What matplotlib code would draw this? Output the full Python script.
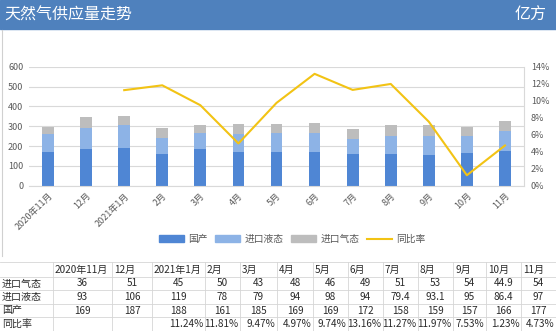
import numpy as np
import matplotlib
matplotlib.use('Agg')
import matplotlib.pyplot as plt
from matplotlib.patches import Rectangle, Patch
from matplotlib.lines import Line2D

plt.rcParams['font.family'] = ['Noto Sans CJK SC', 'DejaVu Sans']

months = ['2020年11月', '12月', '2021年1月', '2月', '3月', '4月', '5月',
          '6月', '7月', '8月', '9月', '10月', '11月']
gas_import = [36, 51, 45, 50, 43, 48, 46, 49, 51, 53, 54, 44.9, 54]
lng_import = [93, 106, 119, 78, 79, 94, 98, 94, 79.4, 93.1, 95, 86.4, 97]
domestic = [169, 187, 188, 161, 185, 169, 169, 172, 158, 159, 157, 166, 177]
yoy = [np.nan, np.nan, 11.24, 11.81, 9.47, 4.97, 9.74, 13.16, 11.27, 11.97, 7.53, 1.23, 4.73]

c_dom = '#4F86D4'
c_lng = '#8DB3E6'
c_gas = '#BDBDBD'
c_line = '#F2C314'
grey_txt = '#595959'

W, H = 556, 331
fig = plt.figure(figsize=(W / 100, H / 100), dpi=100)

# overlay for header, frame and table (pixel coords)
ov = fig.add_axes([0, 0, 1, 1])
ov.set_xlim(0, W)
ov.set_ylim(H, 0)
ov.axis('off')
ov.add_patch(Rectangle((0, 0), W, 29, color='#4F81BD', zorder=0))
ov.text(4, 15, '天然气供应量走势', color='white', fontsize=11.5, va='center', ha='left')
ov.text(547, 15, '亿方', color='white', fontsize=11.5, va='center', ha='right')
ov.plot([2, 2], [30, 256], color='#D0D0D0', lw=0.8)

# main chart
x = np.arange(len(months))
ax = fig.add_axes([29 / W, 1 - 185.7 / H, (524 - 29) / W, (185.7 - 66.7) / H])
bw = 0.31
ax.bar(x, domestic, bw, color=c_dom, label='国产', zorder=2)
ax.bar(x, lng_import, bw, bottom=domestic, color=c_lng, label='进口液态', zorder=2)
bot2 = np.array(domestic) + np.array(lng_import)
ax.bar(x, gas_import, bw, bottom=bot2, color=c_gas, label='进口气态', zorder=2)
ax.set_xlim(-0.5, 12.5)
ax.set_ylim(0, 600)
ax.set_yticks(range(0, 601, 100))
ax.grid(axis='y', color='#D9D9D9', lw=0.8, zorder=0)
ax.set_xticks(x)
ax.set_xticklabels(months, rotation=45, ha='right', rotation_mode='anchor')
ax.tick_params(length=0, labelsize=6.5, colors=grey_txt, pad=4)
for s in ['top', 'left']:
    ax.spines[s].set_visible(False)
ax.spines['bottom'].set_color('#D9D9D9')
ax.spines['right'].set_color('#D9D9D9')

ax2 = ax.twinx()
ax2.plot(x, np.array(yoy) / 100, color=c_line, lw=1.5, zorder=3)
ax2.set_ylim(0, 0.14)
ax2.set_yticks(np.arange(0, 0.141, 0.02))
ax2.set_yticklabels([f'{int(round(v * 100))}%' for v in np.arange(0, 0.141, 0.02)])
ax2.tick_params(length=0, labelsize=6.5, colors=grey_txt, pad=5)
for s in ax2.spines.values():
    s.set_visible(False)

handles = [Patch(color=c_dom), Patch(color=c_lng), Patch(color=c_gas),
           Line2D([], [], color=c_line, lw=1.5)]
fig.legend(handles, ['国产', '进口液态', '进口气态', '同比率'], loc='center',
           bbox_to_anchor=(292 / W, 1 - 239 / H), ncol=4, frameon=False,
           fontsize=7, labelcolor=grey_txt, handlelength=2.6, handleheight=0.6,
           columnspacing=0.8, handletextpad=0.4)

# data table
col_edges = [0, 53, 112, 152, 205, 240, 277, 313, 348, 383, 418, 453, 486, 521, 556]
row_y = [270, 283.5, 297, 310.5, 324]
line_y = [262, 276.5, 290, 303.5, 317, 331]
tc = '#2A2A2A'
fs = 7.2
for yy in line_y:
    ov.plot([0, W], [yy, yy], color='#D6D6D6', lw=0.6)
for xx in col_edges[1:-1]:
    ov.plot([xx, xx], [262, 331], color='#D6D6D6', lw=0.6)

for i, m in enumerate(months):
    ov.text(col_edges[i + 1] + 2, row_y[0], m, fontsize=fs, color=tc, va='center', ha='left')

rows = [('进口气态', gas_import), ('进口液态', lng_import), ('国产', domestic)]
for r, (name, vals) in enumerate(rows):
    yy = row_y[r + 1]
    ov.text(2, yy, name, fontsize=fs, color=tc, va='center', ha='left')
    for i, v in enumerate(vals):
        cx = (col_edges[i + 1] + col_edges[i + 2]) / 2
        ov.text(cx, yy, f'{v:g}', fontsize=fs, color=tc, va='center', ha='center')

ov.text(2, row_y[4], '同比率', fontsize=fs, color=tc, va='center', ha='left')
for i, v in enumerate(yoy):
    if np.isnan(v):
        continue
    ov.text(col_edges[i + 2] - 1.5, row_y[4], f'{v:.2f}%', fontsize=fs, color=tc,
            va='center', ha='right')

fig.savefig('out.png', dpi=100)
